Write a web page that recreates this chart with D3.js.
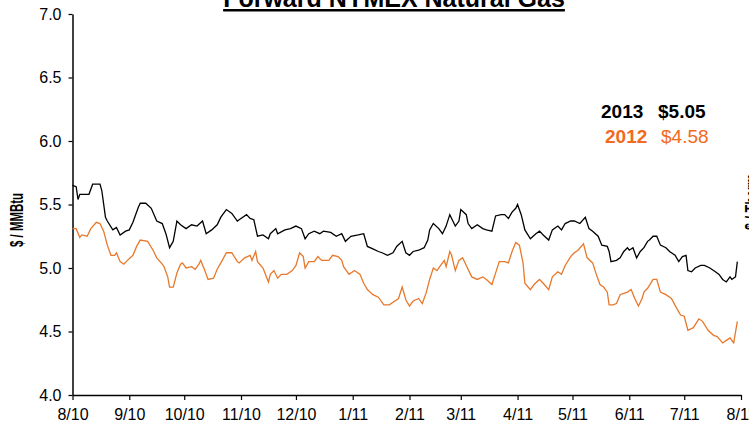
<!DOCTYPE html>
<html>
<head>
<meta charset="utf-8">
<script src="https://cdn.jsdelivr.net/npm/d3@7"></script>
<style>
  body { margin: 0; background: #fff; }
  svg { font-family: "Liberation Sans", Arial, sans-serif; }
</style>
</head>
<body>
<div id="main"></div>
<script>
// day offsets from 8/1/2010, and $/MMBtu values
var days2013 = [0,2,3,4,9,11,15,16,18,19,22,24,26,29,31,33,36,37,40,43,46,49,51,53,55,57,59,62,65,68,71,73,76,79,81,84,87,90,91,95,97,99,101,104,107,108,111,112,116,119,122,125,127,129,132,135,137,141,144,147,149,152,156,159,161,164,167,169,172,175,177,180,182,184,186,189,192,194,195,197,200,202,204,206,207,209,211,212,215,216,218,221,224,226,229,231,234,236,238,240,242,243,245,247,250,253,255,257,260,262,265,267,269,272,274,277,280,282,284,287,289,292,293,294,297,299,301,303,304,306,308,310,312,314,315,317,319,321,324,326,329,331,333,335,336,338,340,343,345,348,351,353,355,357,359,360,362,363];
var vals2013 = [5.65,5.64,5.54,5.58,5.58,5.66,5.66,5.61,5.40,5.37,5.30,5.32,5.26,5.29,5.30,5.36,5.48,5.51,5.51,5.47,5.37,5.35,5.27,5.16,5.21,5.37,5.34,5.31,5.34,5.33,5.37,5.27,5.30,5.34,5.40,5.46,5.43,5.37,5.38,5.42,5.39,5.38,5.25,5.26,5.23,5.27,5.31,5.27,5.30,5.31,5.33,5.31,5.23,5.27,5.29,5.27,5.29,5.28,5.25,5.27,5.21,5.25,5.26,5.27,5.17,5.15,5.13,5.12,5.10,5.12,5.17,5.21,5.12,5.10,5.13,5.14,5.16,5.22,5.30,5.35,5.31,5.27,5.33,5.42,5.39,5.33,5.37,5.46,5.42,5.35,5.31,5.34,5.31,5.30,5.29,5.41,5.42,5.42,5.39,5.44,5.47,5.50,5.42,5.30,5.23,5.27,5.29,5.26,5.22,5.30,5.33,5.30,5.35,5.37,5.37,5.35,5.40,5.31,5.29,5.25,5.18,5.17,5.13,5.05,5.06,5.08,5.13,5.16,5.14,5.16,5.08,5.13,5.16,5.21,5.22,5.25,5.25,5.18,5.16,5.13,5.10,5.05,5.09,5.10,4.98,4.97,5.00,5.02,5.02,5.00,4.97,4.95,4.91,4.89,4.93,4.91,4.93,5.05];

var days2012 = [0,2,4,5,8,10,13,15,17,19,21,23,24,26,28,30,33,35,37,41,44,46,49,50,52,53,55,57,59,60,62,65,67,69,70,72,74,77,79,81,84,87,90,91,94,97,98,100,101,104,107,108,110,112,114,117,120,122,124,126,127,129,132,134,136,140,142,145,147,148,151,154,157,159,161,164,167,170,173,176,178,180,182,184,186,189,191,193,195,197,199,201,203,204,206,207,209,211,213,215,218,221,224,226,229,231,233,236,238,240,242,244,246,247,250,252,255,257,260,262,265,267,269,272,274,276,279,281,284,286,288,290,292,293,295,297,299,301,303,305,307,309,311,312,314,317,319,321,324,327,330,332,334,336,339,342,344,347,350,352,355,357,359,361,363];
var vals2012 = [5.31,5.31,5.24,5.26,5.25,5.31,5.36,5.35,5.29,5.18,5.10,5.10,5.12,5.05,5.03,5.06,5.10,5.17,5.22,5.21,5.14,5.08,5.03,5.01,4.93,4.85,4.85,4.96,5.03,5.04,5.00,5.01,4.99,5.03,5.06,4.99,4.91,4.92,4.99,5.04,5.12,5.12,5.05,5.04,5.08,5.10,5.06,5.13,5.05,5.00,4.89,4.95,4.98,4.92,4.95,4.95,4.98,5.02,5.12,5.09,5.00,5.05,5.05,5.09,5.06,5.06,5.10,5.09,5.06,5.01,4.95,4.98,4.95,4.88,4.83,4.79,4.77,4.71,4.71,4.74,4.76,4.85,4.75,4.70,4.74,4.76,4.72,4.80,4.91,5.00,4.98,5.02,5.06,5.01,5.13,5.10,4.98,5.06,5.08,5.02,4.93,4.91,4.93,4.91,4.87,4.96,5.05,5.05,5.04,5.13,5.20,5.18,5.04,4.88,4.83,4.87,4.91,4.88,4.83,4.93,4.97,4.95,5.02,5.09,5.12,5.14,5.19,5.08,5.04,4.95,4.87,4.85,4.81,4.71,4.71,4.72,4.79,4.80,4.81,4.83,4.76,4.70,4.76,4.81,4.84,4.91,4.91,4.81,4.79,4.76,4.68,4.63,4.62,4.51,4.53,4.60,4.58,4.51,4.47,4.46,4.41,4.43,4.45,4.41,4.58];

var yTicks = [4.0, 4.5, 5.0, 5.5, 6.0, 6.5, 7.0];
var legendRows = [
  {year: "2013", price: "$5.05"},
  {year: "2012", price: "$4.58"}
];

var W = 749, H = 430;
var black = "#000", orange = "#f26a1b", orangeLine = "#e8782a";

var start = new Date(2010, 7, 1);
function toDate(d) { return d3.timeDay.offset(start, d); }

var svg = d3.select("#main").append("svg")
    .attr("width", W)
    .attr("height", H);

var x = d3.scaleTime()
    .domain([start, new Date(2011, 7, 1)])
    .range([72.5, 741]);

var y = d3.scaleLinear()
    .domain([4, 7])
    .range([395, 14]);

// x axis
var xAxis = svg.append("g")
    .attr("transform", "translate(0,395)")
    .call(d3.axisBottom(x)
      .ticks(d3.timeMonth.every(1))
      .tickFormat(d3.timeFormat("%-m/%y"))
      .tickSize(5)
      .tickSizeOuter(0)
      .tickPadding(9));
xAxis.selectAll("text").attr("font-size", 16).attr("fill", "#000").attr("font-family", "Liberation Sans, Arial");
xAxis.selectAll("line").attr("stroke", "#000").attr("stroke-width", 1.2);
xAxis.select(".domain").attr("stroke", "#000").attr("stroke-width", 1.5);

// y axis
var yAxis = svg.append("g")
    .attr("transform", "translate(72.5,0)")
    .call(d3.axisLeft(y)
      .tickValues(yTicks)
      .tickFormat(d3.format(".1f"))
      .tickSize(4)
      .tickSizeOuter(0)
      .tickPadding(7));
yAxis.selectAll("text").attr("font-size", 16).attr("fill", "#000").attr("font-family", "Liberation Sans, Arial");
yAxis.selectAll("line").attr("stroke", "#000").attr("stroke-width", 1.2);
yAxis.select(".domain").attr("stroke", "#000").attr("stroke-width", 1.5);

// lines
var line = d3.line()
    .x(function(d) { return x(d[0]); })
    .y(function(d) { return y(d[1]); });

var s2012 = days2012.map(function(d, i) { return [toDate(d), vals2012[i]]; });
var s2013 = days2013.map(function(d, i) { return [toDate(d), vals2013[i]]; });

svg.append("path")
    .datum(s2012)
    .attr("fill", "none")
    .attr("stroke", orangeLine)
    .attr("stroke-width", 1.3)
    .attr("d", line);

svg.append("path")
    .datum(s2013)
    .attr("fill", "none")
    .attr("stroke", black)
    .attr("stroke-width", 1.3)
    .attr("d", line);

// title (cut off at top of the frame)
svg.append("text")
    .attr("x", 394)
    .attr("y", 7)
    .attr("text-anchor", "middle")
    .attr("font-size", 25)
    .attr("font-weight", "bold")
    .attr("text-decoration", "underline")
    .text("Forward NYMEX Natural Gas");

// axis titles
svg.append("text")
    .attr("transform", "translate(23,220) rotate(-90)")
    .attr("text-anchor", "middle")
    .attr("font-size", 18)
    .attr("font-weight", "bold")
    .attr("textLength", 54)
    .attr("lengthAdjust", "spacingAndGlyphs")
    .text("$ / MMBtu");

svg.append("text")
    .attr("transform", "translate(758,230) rotate(-90)")
    .attr("text-anchor", "start")
    .attr("font-size", 18)
    .attr("font-weight", "bold")
    .attr("textLength", 56)
    .attr("lengthAdjust", "spacingAndGlyphs")
    .text("$ / Therm");

// legend
var leg = svg.append("g");
leg.append("text").attr("x", 601).attr("y", 118)
    .attr("font-size", 19).attr("font-weight", "bold").attr("fill", black)
    .text(legendRows[0].year);
leg.append("text").attr("x", 658).attr("y", 118)
    .attr("font-size", 19).attr("font-weight", "bold").attr("fill", black)
    .text(legendRows[0].price);
leg.append("text").attr("x", 605).attr("y", 143)
    .attr("font-size", 19).attr("font-weight", "bold").attr("fill", orange)
    .text(legendRows[1].year);
leg.append("text").attr("x", 661).attr("y", 143)
    .attr("font-size", 19).attr("fill", orange)
    .text(legendRows[1].price);
</script>
</body>
</html>
